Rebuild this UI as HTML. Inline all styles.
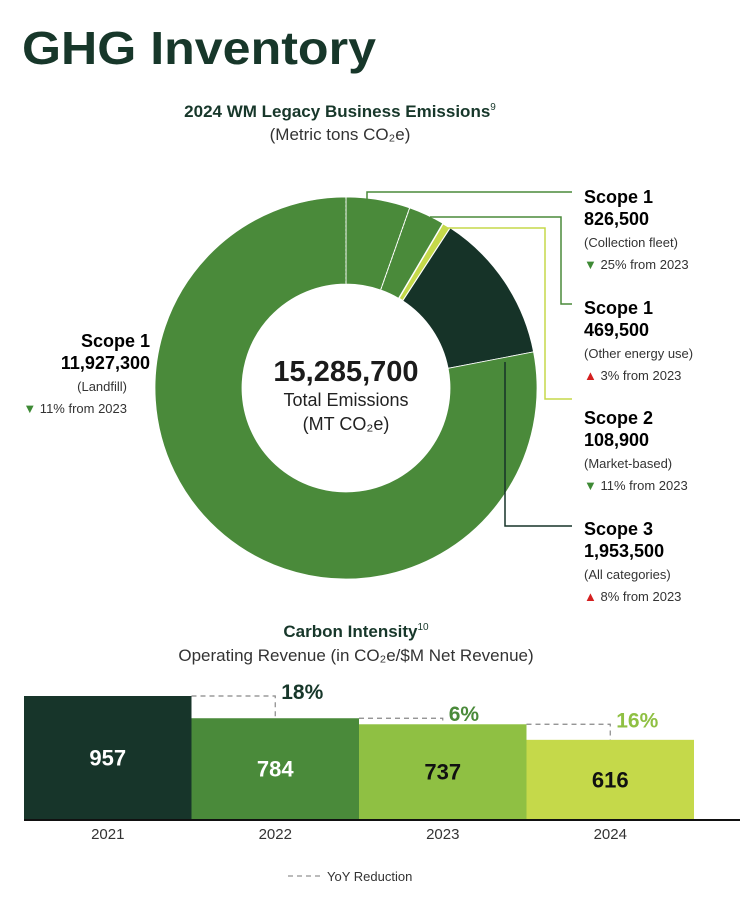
<!DOCTYPE html>
<html><head><meta charset="utf-8"><style>
body{margin:0;background:#fff;width:740px;height:894px;overflow:hidden;font-family:"Liberation Sans",sans-serif;color:#1b1b1b}
svg text{font-family:"Liberation Sans",sans-serif}
</style></head><body>
<svg width="740" height="894">
<text x="22" y="64" font-size="46" font-weight="bold" fill="#17372a" textLength="354" lengthAdjust="spacingAndGlyphs">GHG Inventory</text>
<text x="340" y="117" text-anchor="middle" font-size="17" font-weight="bold" fill="#17372a">2024 WM Legacy Business Emissions<tspan font-size="10" dy="-7" font-weight="normal">9</tspan></text>
<text x="340" y="140" text-anchor="middle" font-size="17" fill="#333">(Metric tons CO₂e)</text>
<g id="donut"></g>
<g id="leaders">
<polyline points="367,201 367,192 572,192" fill="none" stroke="#4a8a3a" stroke-width="1.5"/>
<polyline points="430,217 561,217 561,304 572,304" fill="none" stroke="#4a8a3a" stroke-width="1.5"/>
<polyline points="446,228 545,228 545,399 572,399" fill="none" stroke="#c5d94a" stroke-width="1.5"/>
<polyline points="505,362 505,526 572,526" fill="none" stroke="#163328" stroke-width="1.5"/>
</g>
<text x="346" y="381" text-anchor="middle" font-size="29" font-weight="bold" fill="#1b1b1b">15,285,700</text>
<text x="346" y="406" text-anchor="middle" font-size="18" fill="#222">Total Emissions</text>
<text x="346" y="430" text-anchor="middle" font-size="18" fill="#222">(MT CO₂e)</text>
<g text-anchor="end">
<text x="150" y="347" font-size="18" font-weight="bold">Scope 1</text>
<text x="150" y="369" font-size="18" font-weight="bold">11,927,300</text>
<text x="127" y="391" font-size="13" fill="#333">(Landfill)</text>
<text x="127" y="413" font-size="13" fill="#333"><tspan fill="#3e8a35">▼</tspan> 11% from 2023</text>
</g>
<g id="rlabels"></g>
<g id="bars"></g>
<text x="356" y="637" text-anchor="middle" font-size="17" font-weight="bold" fill="#17372a">Carbon Intensity<tspan font-size="10" dy="-7" font-weight="normal">10</tspan></text>
<text x="356" y="661" text-anchor="middle" font-size="17" fill="#333">Operating Revenue (in CO₂e/$M Net Revenue)</text>
<g>
<line x1="288" y1="876" x2="320" y2="876" stroke="#777" stroke-dasharray="5,4"/>
<text x="327" y="881" font-size="13" fill="#333">YoY Reduction</text>
</g>
</svg>
<script>
const NS="http://www.w3.org/2000/svg";
function mk(t,a,p){const e=document.createElementNS(NS,t);for(const k in a)e.setAttribute(k,a[k]);p.appendChild(e);return e;}
// donut data
const segNames=["Scope 1 Collection fleet","Scope 1 Other energy use","Scope 2 Market-based","Scope 3 All categories","Scope 1 Landfill"];
const segValues=[826500,469500,108900,1953500,11927300];
const segColors=["#4a8a3a","#4a8a3a","#c5d94a","#163328","#4a8a3a"];
const rLabelTitles=["Scope 1","Scope 1","Scope 2","Scope 3"];
const rLabelValues=["826,500","469,500","108,900","1,953,500"];
const rLabelSubs=["(Collection fleet)","(Other energy use)","(Market-based)","(All categories)"];
const rLabelChange=["25% from 2023","3% from 2023","11% from 2023","8% from 2023"];
const rLabelUp=[false,true,false,true];
const cx=346,cy=388,R=191,r=104;
const dg=document.getElementById('donut');
const tot=segValues.reduce((a,b)=>a+b,0);
let a0=0;
function pt(rad,ang){const t=ang*Math.PI/180;return [cx+rad*Math.sin(t),cy-rad*Math.cos(t)];}
segValues.forEach((v,i)=>{
 const a1=a0+v/tot*360;const lg=(a1-a0)>180?1:0;
 const p1=pt(R,a0),p2=pt(R,a1),p3=pt(r,a1),p4=pt(r,a0);
 const p=mk('path',{d:`M${p1} A${R},${R} 0 ${lg} 1 ${p2} L${p3} A${r},${r} 0 ${lg} 0 ${p4}Z`,fill:segColors[i],stroke:"#fff","stroke-width":i==2?1.5:0.8},dg);
 
 
 a0=a1;
});
let acc=0;[0,segValues[0]].forEach(v=>{acc+=v;const ang=acc/tot*360;const q1=pt(R,ang),q2=pt(r,ang);
 const l=mk('line',{x1:q1[0],y1:q1[1],x2:q2[0],y2:q2[1],stroke:"#fff","stroke-width":1,"stroke-dasharray":"2,2"},dg);
 
 });
const rl=document.getElementById('rlabels');
const ys=[203,314,424,535];
rLabelTitles.forEach((t,i)=>{
 const g=mk('g',{},rl);
 
 
 const y=ys[i];
 mk('text',{x:584,y:y,"font-size":18,"font-weight":"bold"},g).textContent=t;
 mk('text',{x:584,y:y+22,"font-size":18,"font-weight":"bold"},g).textContent=rLabelValues[i];
 mk('text',{x:584,y:y+44,"font-size":13,fill:"#333"},g).textContent=rLabelSubs[i];
 const c=mk('text',{x:584,y:y+66,"font-size":13,fill:"#333"},g);
 const s=mk('tspan',{fill:rLabelUp[i]?"#d42020":"#3e8a35"},c);s.textContent=rLabelUp[i]?"▲ ":"▼ ";
 const s2=mk('tspan',{},c);s2.textContent=rLabelChange[i];
});
// bar data
const years=["2021","2022","2023","2024"];
const intensity=[957,784,737,616];
const reductions=["","18%","6%","16%"];
const barColors=["#17352a","#4a8a3a","#8fc043","#c5d94a"];
const textColors=["#fff","#fff","#111","#111"];
const pctColors=["","#17372a","#4a8a3a","#8fc043"];
const bg=document.getElementById('bars');
const base=819,x0=24,bw=167.5,sc=123/957;
const yS=v=>base-v*sc, xS=i=>x0+i*bw;
intensity.forEach((v,i)=>{
 const b=mk('rect',{x:xS(i),y:yS(v),width:bw,height:base-yS(v),fill:barColors[i]},bg);
 
 
 const t=mk('text',{x:xS(i)+bw/2,y:(yS(v)+base)/2+8,"text-anchor":"middle","font-size":22,"font-weight":"bold",fill:textColors[i]},bg);
 t.textContent=v;
 
 
 const yl=mk('text',{x:xS(i)+bw/2,y:base+20,"text-anchor":"middle","font-size":15,fill:"#333"},bg);
 yl.textContent=years[i];
 
 
 if(i>0){
  const pv=intensity[i-1],mx=xS(i)+bw*0.5;
  const d=mk('polyline',{points:`${xS(i)},${yS(pv)} ${mx},${yS(pv)} ${mx},${yS(v)}`,fill:"none",stroke:"#888","stroke-dasharray":"5,4","stroke-width":1.2},bg);
  
  
  const p=mk('text',{x:mx+6,y:yS(pv)+3,"font-size":21,"font-weight":"bold",fill:pctColors[i]},bg);
  p.textContent=reductions[i];
  
  
 }
});
const ax=mk('line',{x1:x0,y1:base+1,x2:740,y2:base+1,stroke:"#111","stroke-width":2},bg);


</script>
</body></html>
